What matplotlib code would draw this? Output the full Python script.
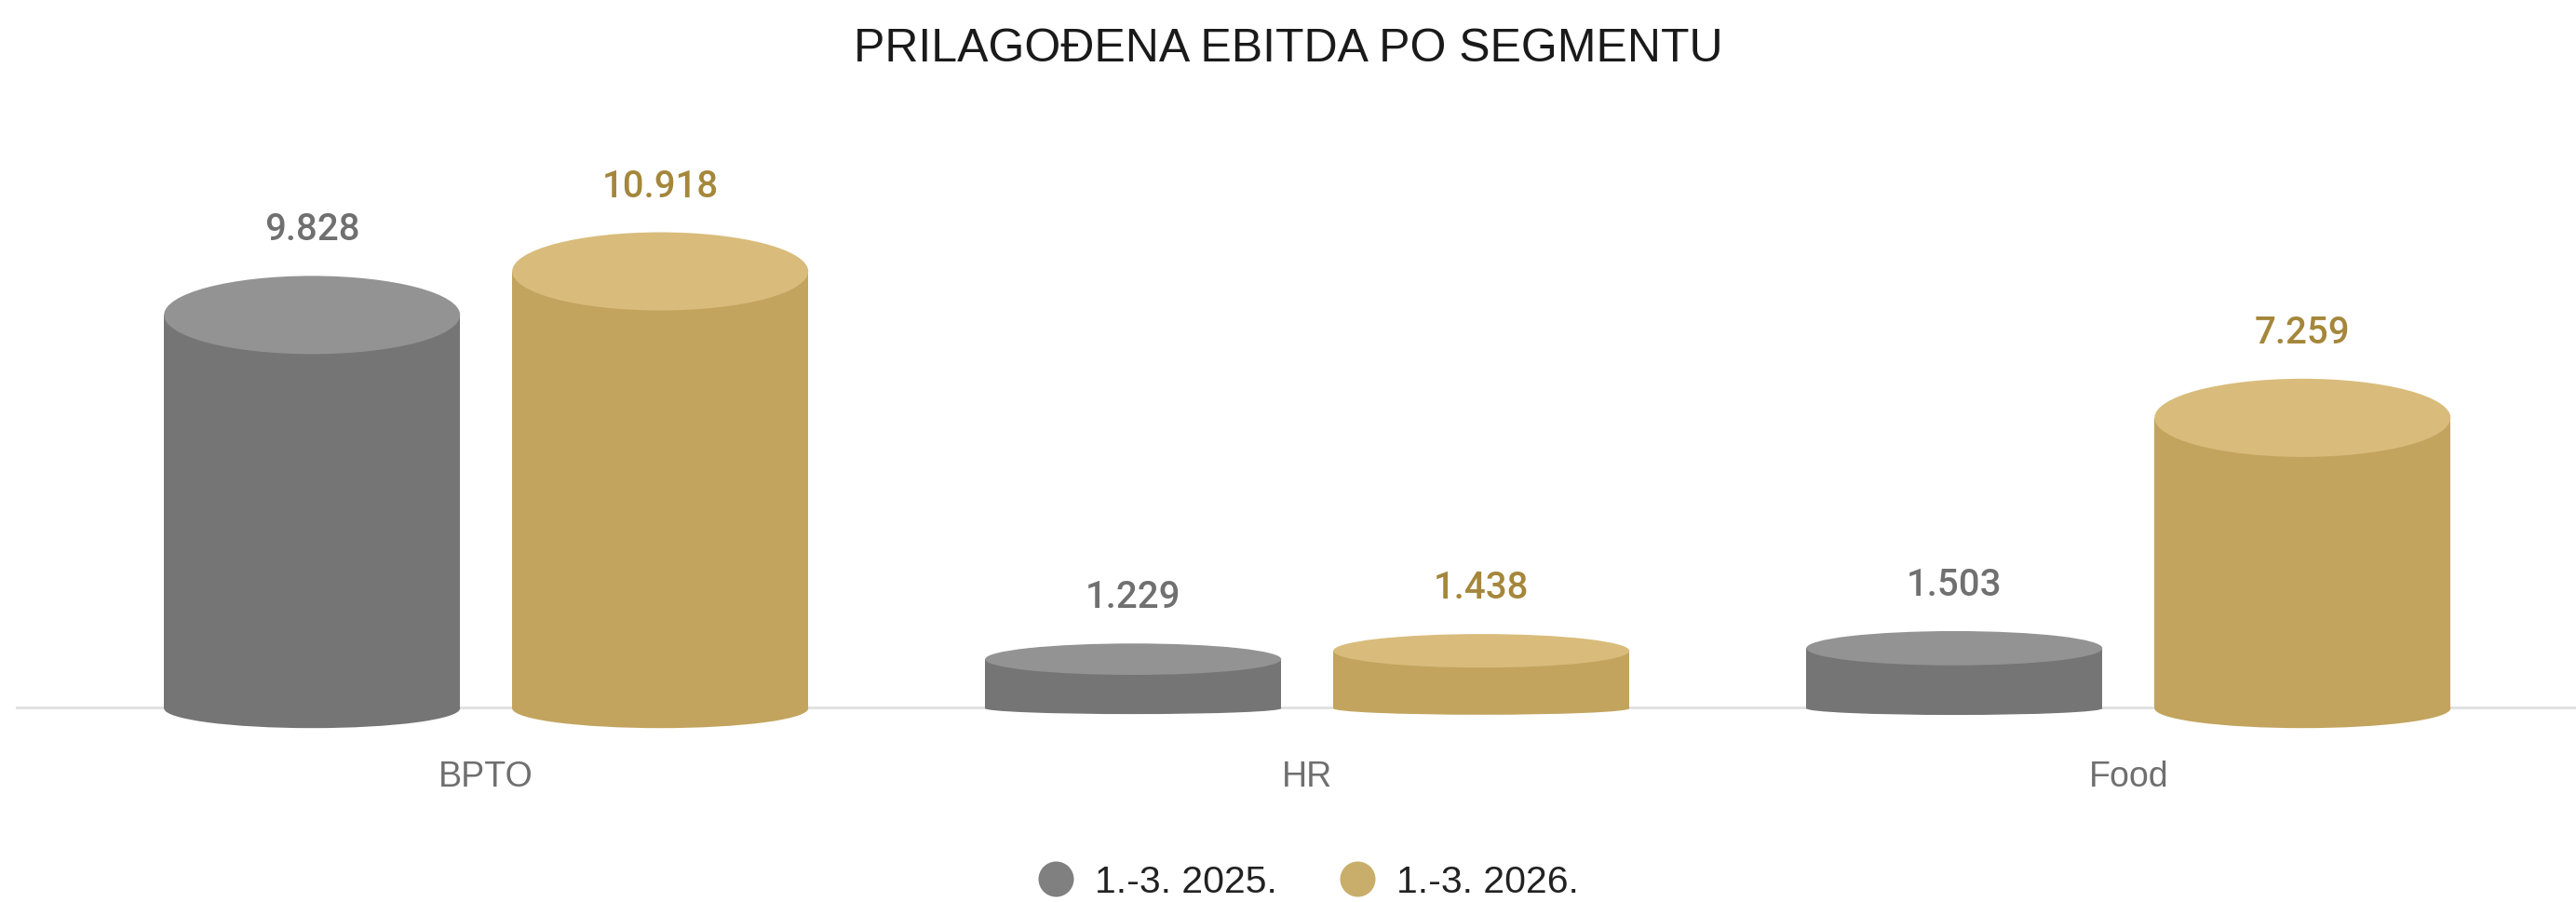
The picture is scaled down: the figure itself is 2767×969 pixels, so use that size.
import matplotlib
matplotlib.use("Agg")
import matplotlib.pyplot as plt
from matplotlib.patches import Ellipse
from matplotlib.lines import Line2D

plt.rcParams['font.family'] = ['Liberation Sans', 'DejaVu Sans']

# ---- data ----
title = "PRILAGOĐENA EBITDA PO SEGMENTU"
categories = ["BPTO", "HR", "Food"]
series_names = ["1.-3. 2025.", "1.-3. 2026."]
values_2025 = [9.828, 1.229, 1.503]
values_2026 = [10.918, 1.438, 7.259]
labels_2025 = ["9.828", "1.229", "1.503"]
labels_2026 = ["10.918", "1.438", "7.259"]

# ---- styles ----
body_colors = ["#757575", "#C2A45E"]
top_colors = ["#939393", "#D9BC7B"]
label_colors = ["#707070", "#A5873B"]
legend_colors = ["#808080", "#C8AE6A"]

W, H, DPI = 2767, 970, 100
fig = plt.figure(figsize=(W / DPI, H / DPI), dpi=DPI)
ax = fig.add_axes([0, 0, 1, 1])
ax.set_axis_off()

PPU = 43.0          # pixels per value unit
ZERO_PX = 208.0     # baseline distance from bottom (px)
ax.set_ylim(-ZERO_PX / PPU, (H - ZERO_PX) / PPU)
ax.set_xlim(-0.592, 2.545)

bar_w = 0.3605
offset = 0.212
px2pt = 72.0 / DPI

# baseline
ax.axhline(0.03, xmin=18 / W, xmax=1, color="#e2e2e2", lw=3 * px2pt, zorder=0)

x = list(range(len(categories)))
for s, (vals, labs) in enumerate([(values_2025, labels_2025), (values_2026, labels_2026)]):
    xs = [xi + (offset if s else -offset) for xi in x]
    ax.bar(xs, vals, width=bar_w, bottom=0, color=body_colors[s], edgecolor="none", zorder=2)
    for xv, v, lab in zip(xs, vals, labs):
        h_px = v * PPU
        ry_top = min(42.0, 10.0 + 0.13 * h_px)
        ry_bot = max(3.0, 0.6 * ry_top - 4.0)
        ax.add_patch(Ellipse((xv, 0), bar_w, 2 * ry_bot / PPU, facecolor=body_colors[s],
                             edgecolor="none", zorder=1.9))
        ax.add_patch(Ellipse((xv, v), bar_w, 2 * ry_top / PPU, facecolor=top_colors[s],
                             edgecolor="none", zorder=3))
        ax.annotate(lab, (xv, v), xytext=(0, (ry_top + 50) * px2pt), textcoords="offset points",
                    ha="center", va="center", fontsize=29, color=label_colors[s], zorder=4,
                    family=["Roboto", "Liberation Sans"], fontweight="medium")

for xi, c in zip(x, categories):
    ax.annotate(c, (xi, 0), xytext=(0, -73 * px2pt), textcoords="offset points",
                ha="center", va="center", fontsize=27, color="#6f6f6f")

fig.text(0.5, 1 - 53 / H, title, ha="center", va="center", fontsize=36, color="#1a1a1a")

handles = [Line2D([0], [0], marker="o", linestyle="none", markersize=38 * px2pt,
                  markerfacecolor=legend_colors[i], markeredgecolor="none") for i in range(2)]
fig.legend(handles, series_names, loc="center", bbox_to_anchor=(0.5076, 1 - 948 / H),
           ncol=2, frameon=False, fontsize=29.5, labelcolor="#222222",
           handletextpad=0.52, columnspacing=1.6, handlelength=1.0)

fig.savefig("out.png", dpi=DPI)
